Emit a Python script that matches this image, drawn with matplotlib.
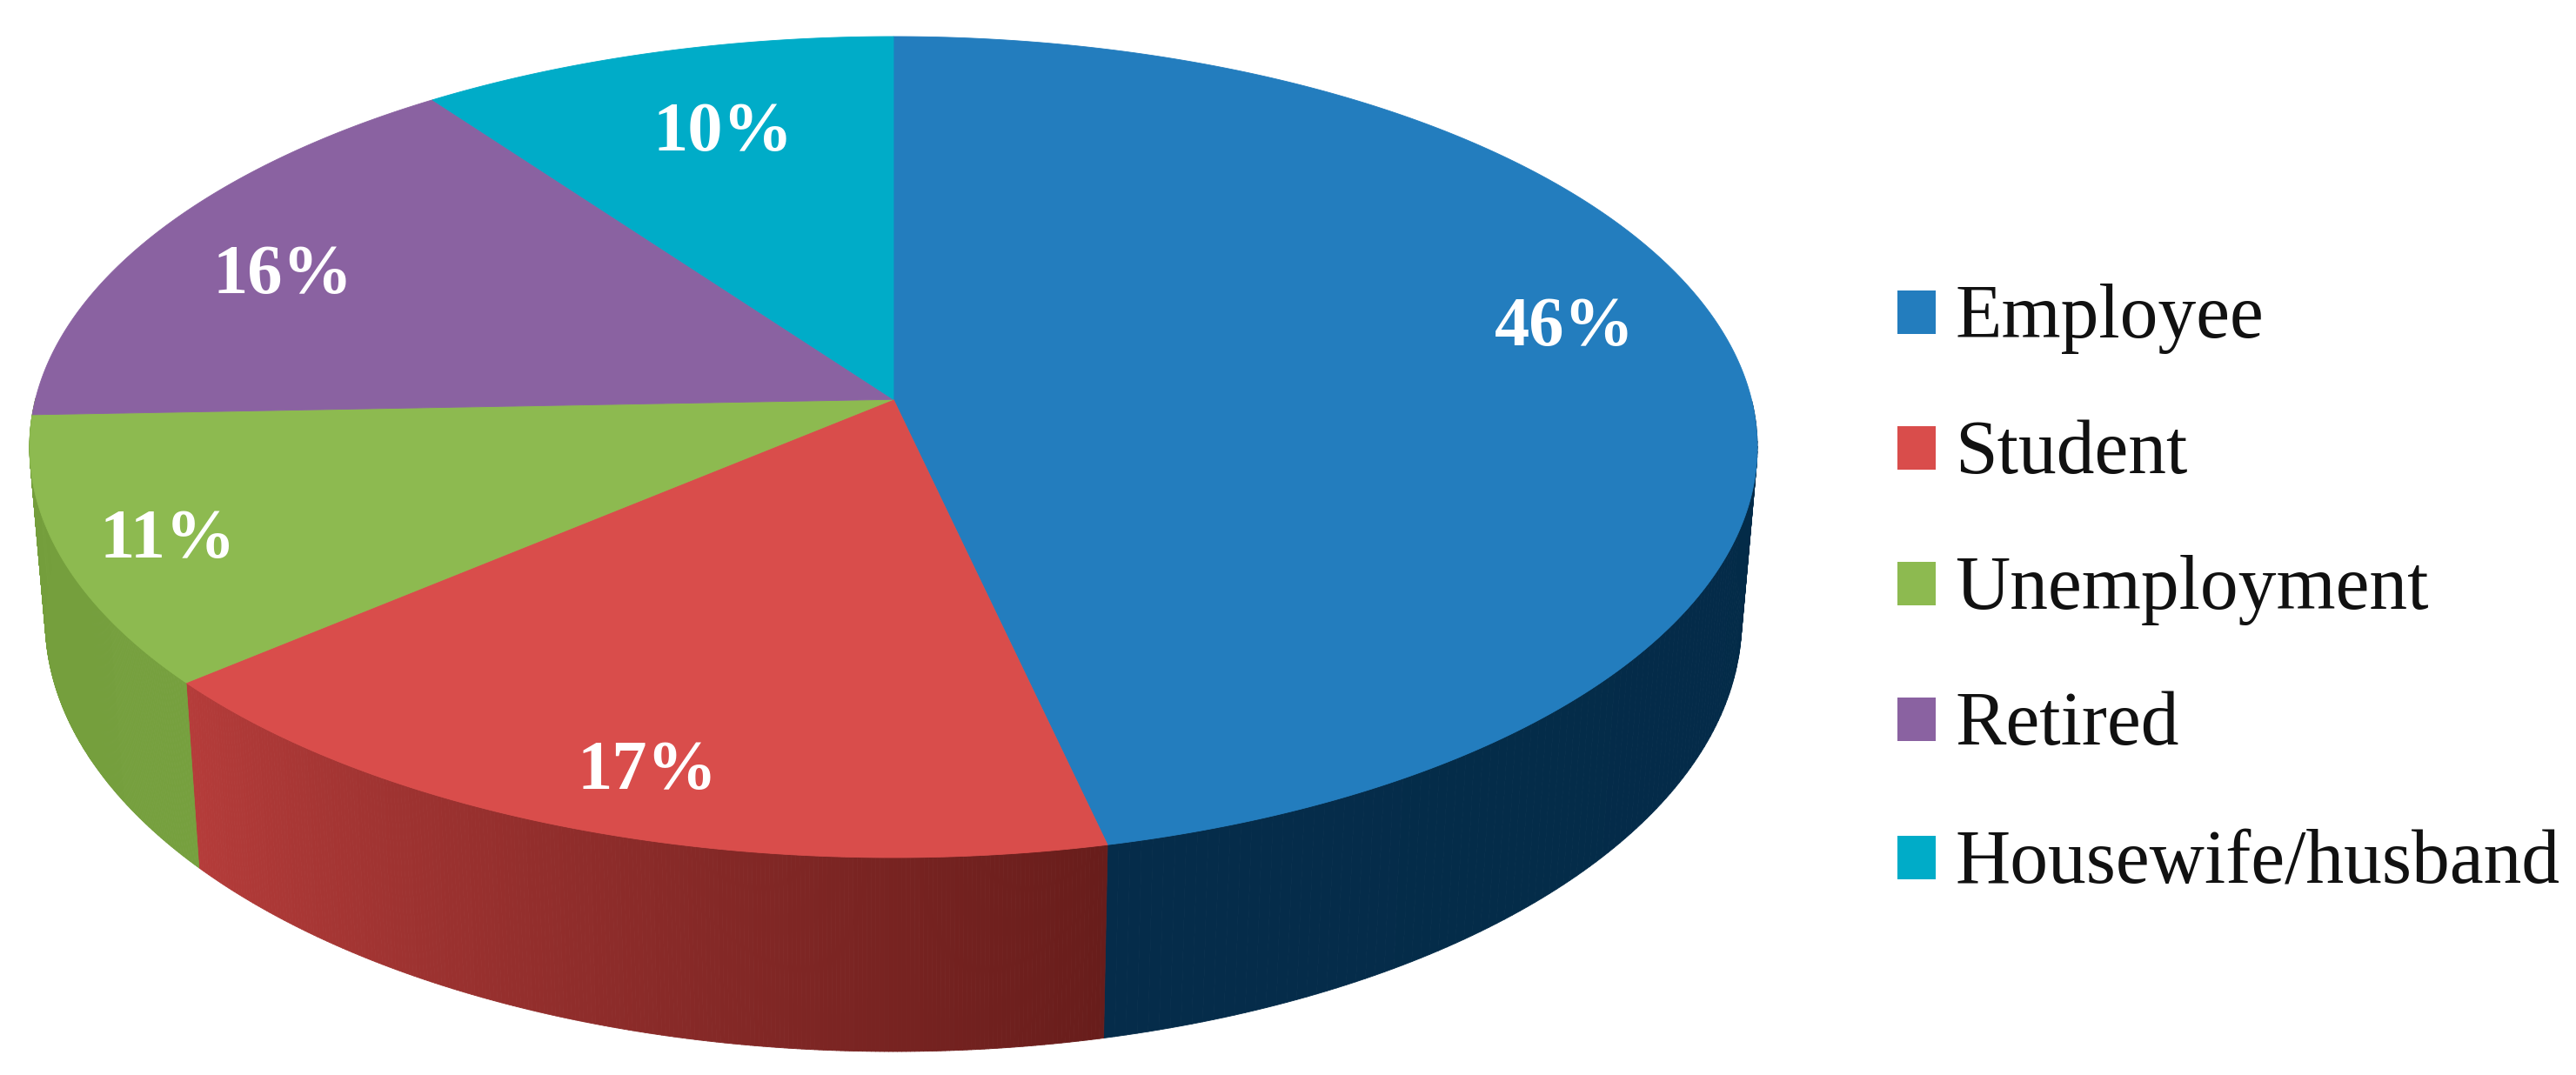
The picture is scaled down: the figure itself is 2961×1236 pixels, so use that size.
import numpy as np
import matplotlib
matplotlib.use('Agg')
import matplotlib.pyplot as plt
from matplotlib.patches import Polygon, Rectangle
from matplotlib.collections import PolyCollection
from matplotlib.colors import to_rgb

# clockwise from 12 o'clock. shares are read from the slice edges, labels are what the chart prints
categories = ['Employee', 'Student', 'Unemployment', 'Retired', 'Housewife/husband']
shares = [46.45, 17.35, 10.6, 15.6, 10.0]
pct_labels = ['46%', '17%', '11%', '16%', '10%']

top_colors = ['#237DBE', '#D94D4B', '#8DBA50', '#8A62A1', '#00ACC8']
# colour of each wall at the clockwise start and end of its slice
wall_start = ['#032B48', '#681D1B', '#76A03E', '#76A03E', '#76A03E']
wall_end = ['#052C4A', '#B53C3A', '#749E3C', '#749E3C', '#749E3C']

# geometry, in pixels of the full image
W, H = 2961, 1236
cx, cy = 1027, 514
rx, ry = 993, 472
rx_bottom = 975
ry_bottom = 496
depth = 199
a = -0.116  # perspective shift of the pie centre


def rim(theta):
    # circle angle -> unit ellipse, the centre of the circle lands at (0, a)
    u = np.sin(theta)
    v = -np.cos(theta)
    d = 1 + a * v
    return u * np.sqrt(1 - a ** 2) / d, (v + a) / d


fig = plt.figure(figsize=(W / 100, H / 100), dpi=100)
ax = fig.add_axes([0, 0, 1, 1])
ax.set_xlim(0, W)
ax.set_ylim(H, 0)
ax.axis('off')

edges = np.radians(np.concatenate([[0], np.cumsum(shares)]) * 3.6)

# side walls first, the top face covers what should not show
for i in range(len(shares)):
    th = np.linspace(edges[i], edges[i + 1], 240)
    u, v = rim(th)
    keep = v > -0.12
    if keep.sum() < 2:
        continue
    u, v, = u[keep], v[keep]
    tx, ty = cx + rx * u, cy + ry * v
    bx, by = cx + rx_bottom * u, cy + depth + ry_bottom * v
    c0, c1 = np.array(to_rgb(wall_start[i])), np.array(to_rgb(wall_end[i]))
    strips = []
    cols = []
    for k in range(len(u) - 1):
        strips.append([(tx[k], ty[k]), (tx[k + 1], ty[k + 1]), (bx[k + 1], by[k + 1]), (bx[k], by[k])])
        f = k / (len(u) - 2)
        cols.append(c0 * (1 - f) + c1 * f)
    ax.add_collection(PolyCollection(strips, facecolors=cols, edgecolors='face', linewidths=0.6))

for i in range(len(shares)):
    th = np.linspace(edges[i], edges[i + 1], 300)
    u, v = rim(th)
    pts = [(cx, cy + ry * a)] + list(zip(cx + rx * u, cy + ry * v))
    ax.add_patch(Polygon(pts, closed=True, facecolor=top_colors[i], edgecolor=top_colors[i], linewidth=0.6))

label_x = [1798, 744, 193, 325, 831]
label_y = [377, 887, 621, 317, 154]
for i in range(len(pct_labels)):
    ax.text(label_x[i], label_y[i], pct_labels[i], color='white', fontsize=58, fontweight='bold',
            family='Liberation Serif', ha='center', va='center')

# legend
legend_y = [359, 515, 671, 827, 986]
for i in range(len(categories)):
    ax.add_patch(Rectangle((2181, legend_y[i] - 25), 44, 50, facecolor=top_colors[i], edgecolor='none'))
    ax.text(2247, legend_y[i] - 2, categories[i], color='#111111', fontsize=63,
            family='Liberation Serif', ha='left', va='center_baseline')

fig.savefig('out.png', dpi=100, facecolor='white')
